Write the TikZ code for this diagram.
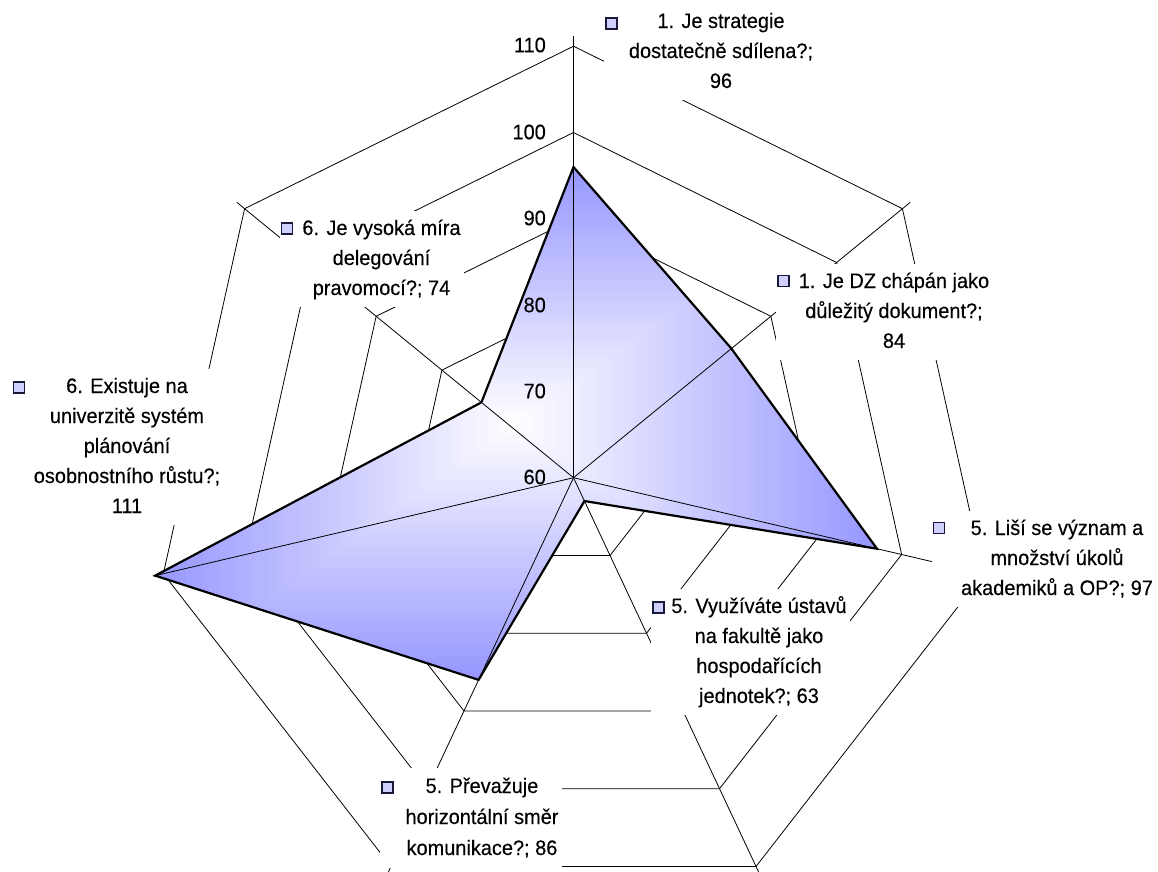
\documentclass[tikz,border=0pt]{standalone}
\usepackage{fontspec}
\setmainfont{Liberation Sans}[FakeStretch=0.95,FakeBold=0.25]
\usetikzlibrary{fit}
\definecolor{pblue}{RGB}{150,150,255}
\definecolor{mkfill}{RGB}{208,208,255}
\definecolor{mkborder}{RGB}{25,25,60}
\pgfdeclarelayer{bg}
\pgfsetlayers{bg,main}
\begin{document}
\begin{tikzpicture}[x=1pt,y=-1pt,
  grid/.style={black,line width=0.8pt},
  spoke/.style={black,line width=0.8pt},
  dataline/.style={black,line width=2.2pt,line join=miter},
  lbl/.style={inner sep=2pt,font=\fontsize{21}{30}\selectfont,anchor=base},
  lblbox/.style={fill=white,draw=none,inner sep=1pt},
  tick/.style={anchor=east,inner sep=0pt,font=\fontsize{21}{24}\selectfont},
  mk/.style={draw=mkborder,line width=1.5pt,fill=mkfill,minimum size=11pt,inner sep=0pt}]
\useasboundingbox (0,0) rectangle (1158,871);
\def\cx{573.5}\def\cy{477.7}\def\sx{0.975}\def\u{8.63}
\coordinate (c) at (\cx,\cy);
% ring vertices
\foreach \r in {70,80,90,100,110}{
  \foreach \k in {0,...,6}{
    \coordinate (g\r-\k) at ({\cx+\sx*\u*(\r-60)*cos(90-\k*360/7)},{\cy-\u*(\r-60)*sin(90-\k*360/7)});
  }
}
% spoke ends
\foreach \k in {0,...,6}{
  \coordinate (s\k) at ({\cx+\sx*(\u*50+10)*cos(90-\k*360/7)},{\cy-(\u*50+10)*sin(90-\k*360/7)});
}
% data points
\foreach \k/\v in {0/96,1/84,2/97,3/63,4/86,5/111,6/74}{
  \coordinate (p\k) at ({\cx+\sx*\u*(\v-60)*cos(90-\k*360/7)},{\cy-\u*(\v-60)*sin(90-\k*360/7)});
}

% value axis labels
\node[tick] (y110) at (546,45) {110};
\node[tick] (y100) at (546,132) {100};
\node[tick] (y90) at (546,218) {90};
\node[tick] (y80) at (546,305) {80};
\node[tick] (y70) at (546,391) {70};
\node[tick] (y60) at (546,477) {60};

% data labels
\node[lbl] (t1) at (721,28) {\begin{tabular}[t]{@{}c@{}}1. Je strategie\\dostatečně sdílena?;\\96\end{tabular}};
\node[mk] (m1) at (611.5,23.5) {};
\node[lbl] (t2) at (894,288) {\begin{tabular}[t]{@{}c@{}}1. Je DZ chápán jako\\důležitý dokument?;\\84\end{tabular}};
\node[mk] (m2) at (783.5,281) {};
\node[lbl] (t3) at (1057,535) {\begin{tabular}[t]{@{}c@{}}5. Liší se význam a\\množství úkolů\\akademiků a OP?; 97\end{tabular}};
\node[mk] (m3) at (939,528) {};
\node[lbl] (t4) at (759,613) {\begin{tabular}[t]{@{}c@{}}5. Využíváte ústavů\\na fakultě jako\\hospodařících\\jednotek?; 63\end{tabular}};
\node[mk] (m4) at (658.3,607.5) {};
\node[lbl,font=\fontsize{21}{31}\selectfont] (t5) at (482,793) {\begin{tabular}[t]{@{}c@{}}5. Převažuje\\horizontální směr\\komunikace?; 86\end{tabular}};
\node[mk] (m5) at (387.5,787.5) {};
\node[lbl] (t6) at (127,393) {\begin{tabular}[t]{@{}c@{}}6. Existuje na\\univerzitě systém\\plánování\\osobnostního růstu?;\\111\end{tabular}};
\node[mk] (m6) at (19,387.5) {};
\node[lbl] (t7) at (381.5,235) {\begin{tabular}[t]{@{}c@{}}6. Je vysoká míra\\delegování\\pravomocí?; 74\end{tabular}};
\node[mk] (m7) at (287,228.5) {};

\begin{pgfonlayer}{bg}
  % rings
  \foreach \r in {70,80,90,100,110}{
    \draw[grid] (g\r-0) \foreach \k in {1,...,6}{ -- (g\r-\k)} -- cycle;
  }
  % filled series: gradient from centre of its bounding box
  \begin{scope}
    \clip (p0) -- (p1) -- (p2) -- (p3) -- (p4) -- (p5) -- (p6) -- cycle;
    \foreach \i in {64,...,1}{
      \pgfmathsetmacro\pc{100*\i/64}
      \pgfmathsetmacro\hw{5.6875*\i}
      \pgfmathsetmacro\hh{4.0234*\i}
      \fill[pblue!\pc!white] ({516-\hw},{423.5-\hh}) rectangle ({516+\hw},{423.5+\hh});
    }
  \end{scope}
  % spokes
  \foreach \k in {0,...,6}{ \draw[spoke] (c) -- (s\k); }
  % series outline
  \draw[dataline] (p0) -- (p1) -- (p2) -- (p3) -- (p4) -- (p5) -- (p6) -- cycle;
  % label backgrounds
  \node[lblbox,fit=(m1)(t1)] (b1) {};
  \node[lblbox,fit=(m2)(t2)] (b2) {};
  \node[lblbox,fit=(m3)(t3)] (b3) {};
  \node[lblbox,fit=(m4)(t4)] (b4) {};
  \node[lblbox,fit=(m5)(t5)] (b5) {};
  \node[lblbox,fit=(m6)(t6)] (b6) {};
  \node[lblbox,fit=(m7)(t7)] (b7) {};
\end{pgfonlayer}
\end{tikzpicture}
\end{document}
